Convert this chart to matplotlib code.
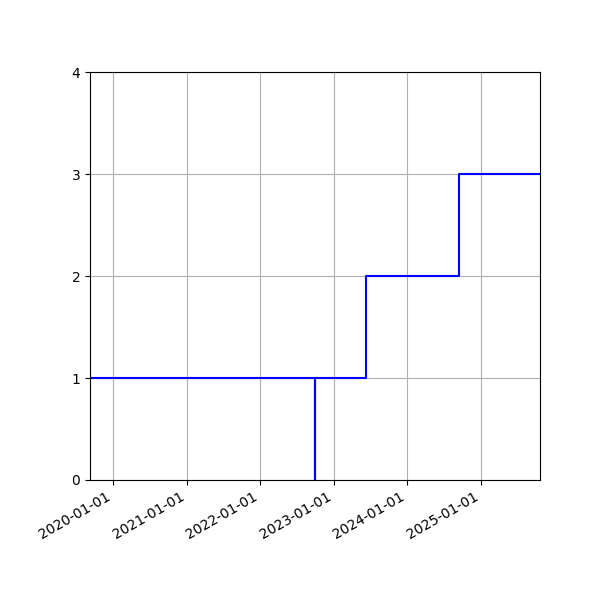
import matplotlib
matplotlib.use("Agg")
import matplotlib.pyplot as plt
import matplotlib.dates as mdates
import numpy as np

dates = np.array(["2019-09-09", "2022-09-28", "2022-10-02", "2023-06-09", "2024-09-13", "2025-10-21"], dtype="datetime64[D]")
values = [1, 0, 1, 2, 3, 3]

fig, ax = plt.subplots(figsize=(6, 6), dpi=100)
ax.step(dates, values, where="post", color="blue")
ax.set_xlim(dates[0], dates[-1])
ax.set_ylim(0, 4)
ax.set_yticks([0, 1, 2, 3, 4])
ax.xaxis.set_major_locator(mdates.YearLocator())
ax.xaxis.set_major_formatter(mdates.DateFormatter("%Y-%m-%d"))
ax.grid(True)
fig.autofmt_xdate()
fig.subplots_adjust(left=0.15, right=0.9, top=0.88, bottom=0.2)
fig.savefig("out.png")
